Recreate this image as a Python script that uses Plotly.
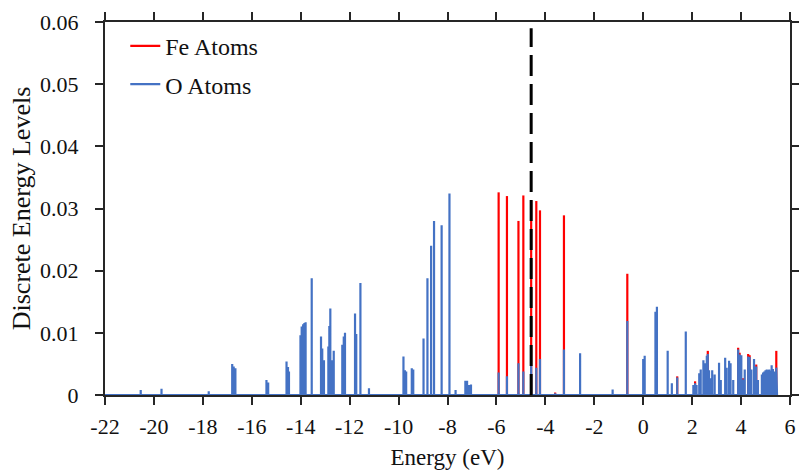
import plotly.graph_objects as go

# ---- Data ----
# O-atom discrete levels: energy (eV) and height
o_energy = [-20.54, -19.69, -17.76, -16.80, -16.74, -16.67, -15.40, -15.33,
            -14.58, -14.52, -14.48, -14.01, -13.96, -13.90, -13.85, -13.80,
            -13.55, -13.17, -13.12, -13.05, -12.87, -12.83, -12.79, -12.74,
            -12.65, -12.30, -12.24, -12.19, -11.78, -11.73, -11.56, -11.21,
            -9.80, -9.74, -9.69, -9.46, -9.40, -8.98, -8.82, -8.67, -8.55,
            -8.24, -7.92, -7.67, -7.27, -7.20, -7.13, -7.04,
            -5.91, -5.57, -5.10, -4.90, -4.58, -4.37, -4.22, -3.60, -3.24,
            -2.58, -1.25, -0.65, 0.00, 0.06, 0.50, 0.56, 1.00, 1.17, 1.39,
            1.74, 2.05, 2.12, 2.18, 2.29, 2.35, 2.46, 2.53, 2.60, 2.64, 2.69,
            2.76, 2.82, 2.92, 3.10, 3.17, 3.35, 3.41, 3.51, 3.57, 3.68, 3.88,
            3.94, 4.01, 4.08, 4.15, 4.29, 4.35, 4.42, 4.53, 4.62, 4.69, 4.85,
            4.90, 4.95, 5.00, 5.05, 5.10, 5.15, 5.20, 5.25, 5.30, 5.35, 5.44]
o_level = [0.0008, 0.0010, 0.0006, 0.0050, 0.0046, 0.0043, 0.0024, 0.0020,
           0.0054, 0.0045, 0.0038, 0.0096, 0.0110, 0.0114, 0.0116, 0.0117,
           0.0188, 0.0094, 0.0075, 0.0056, 0.0078, 0.0111, 0.0139, 0.0056,
           0.0071, 0.0081, 0.0094, 0.0100, 0.0131, 0.0098, 0.0180, 0.0011,
           0.0062, 0.0040, 0.0038, 0.0043, 0.0041, 0.0091, 0.0188, 0.0240, 0.0280,
           0.0273, 0.0324, 0.0008, 0.0023, 0.0023, 0.0016, 0.0017,
           0.0036, 0.0030, 0.0051, 0.0038, 0.0047, 0.0044, 0.0058, 0.0003, 0.0073,
           0.0067, 0.0009, 0.0119, 0.0058, 0.0063, 0.0134, 0.0142, 0.0071, 0.0019, 0.0028,
           0.0102, 0.0016, 0.0019, 0.0016, 0.0035, 0.0041, 0.0056, 0.0051, 0.0063, 0.0066, 0.0040,
           0.0027, 0.0040, 0.0033, 0.0052, 0.0024, 0.0060, 0.0044, 0.0055, 0.0051, 0.0024, 0.0073,
           0.0065, 0.0064, 0.0025, 0.0041, 0.0062, 0.0061, 0.0041, 0.0058, 0.0046, 0.0024, 0.0033,
           0.0036, 0.0038, 0.0040, 0.0041, 0.0040, 0.0041, 0.0039, 0.0048, 0.0042, 0.0038, 0.0044]

# Fe-atom levels (stacked total height shown in red)
fe_energy = [-5.91, -5.57, -5.10, -4.90, -4.58, -4.37, -4.22, -3.60, -3.24, -0.65,
             1.39, 2.12, 2.64, 3.88, 3.94, 4.08, 4.29, 4.35, 4.62, 5.44]
fe_level = [0.0326, 0.0320, 0.0280, 0.0321, 0.0313, 0.0312, 0.0297, 0.0004, 0.0289, 0.0195,
            0.0030, 0.0022, 0.0071, 0.0076, 0.0068, 0.0027, 0.0066, 0.0064, 0.0049, 0.0071]

fermi_level = -4.58
baseline_range = [-22.0, 5.47]

x_ticks = list(range(-22, 7, 2))
y_tickvals = [0, 0.01, 0.02, 0.03, 0.04, 0.05, 0.06]
y_ticktext = ["0", "0.01", "0.02", "0.03", "0.04", "0.05", "0.06"]

# ---- Build spike paths from the data ----
def spikes(es, hs):
    xs, ys = [], []
    for e, h in zip(es, hs):
        xs += [e, e, None]
        ys += [0, h, None]
    return xs, ys

def spikes_with_base(es, hs, x0, x1):
    pairs = sorted(zip(es, hs))
    xs, ys = [x0], [0]
    for e, h in pairs:
        xs += [e, e, e]
        ys += [0, h, 0]
    xs.append(x1)
    ys.append(0)
    return xs, ys

fe_x, fe_y = spikes(fe_energy, fe_level)
o_x, o_y = spikes_with_base(o_energy, o_level, *baseline_range)

FONT = "'Liberation Serif', 'Times New Roman', Times, serif"
RED = "#FF0000"
BLUE = "#4472C4"
AXIS = "#262626"
TEXT = "#111"

fig = go.Figure()
fig.add_trace(go.Scatter(x=fe_x, y=fe_y, mode="lines", name="Fe Atoms",
                         line=dict(color=RED, width=2.2), legendgroup="fe",
                         hoverinfo="skip"))
fig.add_trace(go.Scatter(x=o_x, y=o_y, mode="lines", name="O Atoms",
                         line=dict(color=BLUE, width=2.2), legendgroup="o",
                         hoverinfo="skip"))

fig.add_shape(type="line", xref="x", yref="y", x0=fermi_level, x1=fermi_level,
              y0=0, y1=0.059, line=dict(color="black", width=3, dash="21px,8px"))

axis_common = dict(showline=True, linecolor=AXIS, linewidth=2, mirror="ticks",
                   ticks="outside", ticklen=8, tickwidth=2, tickcolor=AXIS,
                   showgrid=False, zeroline=False, automargin=False,
                   tickfont=dict(family=FONT, size=22, color=TEXT))

fig.update_xaxes(range=[-22, 6], tickvals=x_ticks,
                 ticktext=[str(t) for t in x_ticks],
                 ticklabelstandoff=3,
                 title=dict(text="Energy (eV)", font=dict(family=FONT, size=23, color=TEXT),
                            standoff=10),
                 **axis_common)
fig.update_yaxes(range=[0, 0.06], tickvals=y_tickvals, ticktext=y_ticktext,
                 ticklabelstandoff=12,
                 title=dict(text="Discrete Energy Levels",
                            font=dict(family=FONT, size=26, color=TEXT), standoff=2),
                 **axis_common)

fig.update_layout(
    width=799, height=470,
    margin=dict(l=105, r=9, t=22, b=75, autoexpand=False),
    paper_bgcolor="white", plot_bgcolor="white",
    showlegend=True,
    legend=dict(x=0.0296, y=0.995, xanchor="left", yanchor="top",
                font=dict(family=FONT, size=24, color=TEXT),
                bgcolor="rgba(0,0,0,0)", tracegroupgap=4),
)

fig.write_html("out.html")
